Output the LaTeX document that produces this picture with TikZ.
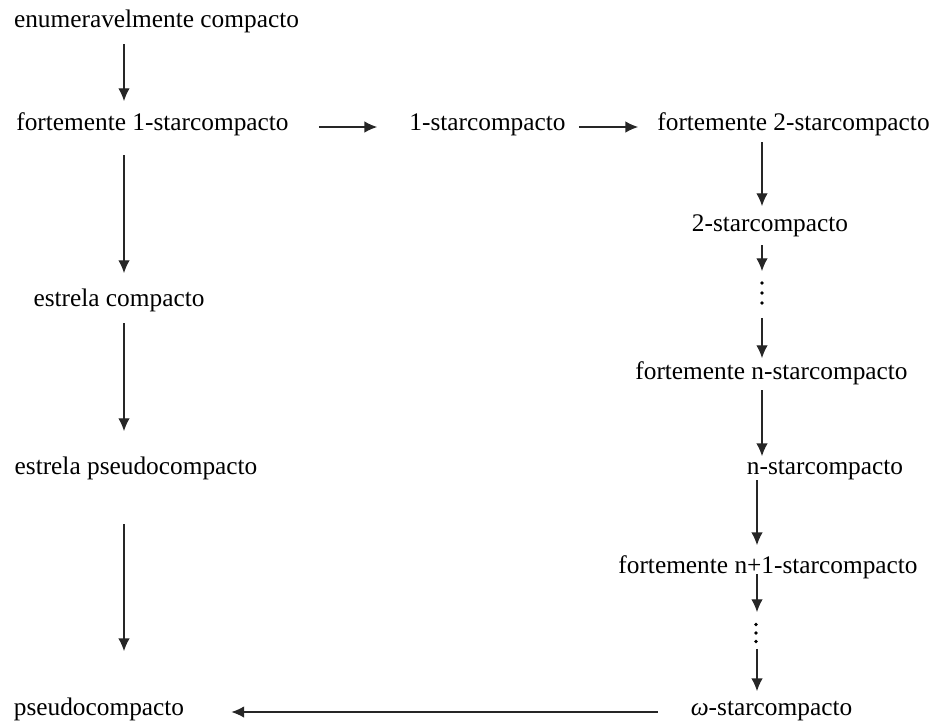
\documentclass[tikz,border=0pt]{standalone}
\usepackage{fontspec}
\setmainfont{Liberation Serif}
\usetikzlibrary{arrows.meta}
\begin{document}
\begin{tikzpicture}[x=0.75pt,y=-0.75pt,
    lbl/.style={anchor=base,inner sep=0pt,text height=0.7em,text depth=0.25em,font=\fontsize{19}{23}\selectfont},
    seta/.style={-{Latex[length=9.5pt,width=8.5pt]},line width=0.85pt,black!85}]
    \useasboundingbox (0,0) rectangle (937,722);
    \coordinate (colL) at (124,0);
    \coordinate (colR) at (762,0);
    \coordinate (colS) at (757,0);
    % textos
    \path
    foreach \x/\y/\n/\t in {156.5/27/enum/enumeravelmente compacto,
        152.5/130/fort1/fortemente 1-starcompacto,
        487.5/130/one/1-starcompacto,
        793.5/130/fort2/fortemente 2-starcompacto,
        770/231/two/2-starcompacto,
        771.5/379/fortn/fortemente n-starcompacto,
        825/474/nstar/n-starcompacto,
        768/573/fortnn/fortemente n+1-starcompacto,
        119/306/estc/estrela compacto,
        136/474/estp/estrela pseudocompacto,
        99/715/pseudo/pseudocompacto} {(\x,\y) node[lbl] (\n) {\t}}
    (771.5,715) node[lbl] (omega) {\textit{ω}-starcompacto}
    ;
    % reticencias
    \node[inner sep=0pt] (dotsA) at (762,293) {};
    \node[inner sep=0pt] (dotsB) at (756,633) {};
    \foreach \d/\s in {dotsA/10,dotsB/8.5}
        \foreach \k in {-1,0,1} \fill (\d) ++(0,\k*\s) circle (1.8);
    % setas verticais
    \foreach \a/\b/\c/\s/\t in {enum/fort1/colL/10.3pt/14.5pt,
        fort1/estc/colL/16.3pt/17.5pt,
        estc/estp/colL/10.3pt/25pt,
        estp/pseudo/colL/35pt/40.7pt,
        fort2/two/colR/6.5pt/11.5pt,
        two/dotsA/colR/8pt/15.75pt,
        dotsA/fortn/colR/18pt/8.5pt,
        fortn/nstar/colR/5.8pt/6.2pt,
        nstar/fortnn/colS/2pt/13.7pt,
        fortnn/dotsB/colS/-1.7pt/15pt,
        dotsB/omega/colS/11.25pt/10.7pt}
        \draw[seta,shorten <=\s,shorten >=\t] (\a.south -| \c)--(\b.north -| \c);
    % setas horizontais
    \foreach \a/\b/\s/\t in {fort1/one/22.5pt/24pt,one/fort2/9.75pt/14.25pt}
        \draw[seta,shorten <=\s,shorten >=\t] (\a.east)--(\b.west);
    \draw[seta,shorten <=24.75pt,shorten >=35.25pt] (omega.west)--(pseudo.east);
\end{tikzpicture}
\end{document}
